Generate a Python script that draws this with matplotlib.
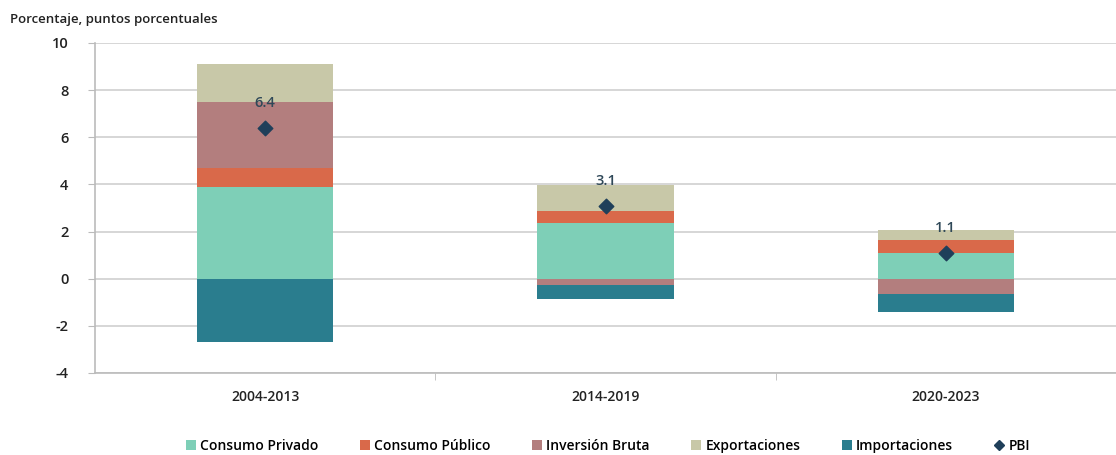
import numpy as np
import matplotlib.pyplot as plt
from matplotlib.lines import Line2D
from matplotlib.patches import Patch

plt.rcParams['font.family'] = ['Open Sans', 'DejaVu Sans']
plt.rcParams['axes.unicode_minus'] = False

periodos = ["2004-2013", "2014-2019", "2020-2023"]
consumo_privado = [3.9, 2.37, 1.09]
consumo_publico = [0.8, 0.52, 0.54]
inversion_bruta = [2.8, -0.27, -0.64]
exportaciones = [1.6, 1.1, 0.43]
importaciones = [-2.7, -0.6, -0.79]
pbi = [6.4, 3.1, 1.1]

series = [
    ("Consumo Privado", consumo_privado, "#7ecfb7"),
    ("Consumo Público", consumo_publico, "#d9694a"),
    ("Inversión Bruta", inversion_bruta, "#b37e7e"),
    ("Exportaciones", exportaciones, "#c8c8a8"),
    ("Importaciones", importaciones, "#2a7d8e"),
]

fig = plt.figure(figsize=(11.16, 4.55), dpi=100)
ax = fig.add_axes([95/1116, 1 - 373/455, 1021/1116, 330/455])

x = np.arange(len(periodos))
pos_base = np.zeros(len(periodos))
neg_base = np.zeros(len(periodos))
for name, vals, col in series:
    vals = np.array(vals)
    base = np.where(vals >= 0, pos_base, neg_base)
    ax.bar(x, vals, 0.4, bottom=base, color=col, zorder=2)
    pos_base = pos_base + np.where(vals >= 0, vals, 0)
    neg_base = neg_base + np.where(vals < 0, vals, 0)

ax.scatter(x, pbi, marker="D", s=55, color="#1f3f5a", zorder=3)
for xi, v in zip(x, pbi):
    ax.annotate(f"{v:.1f}", (xi, v), xytext=(0, 18), textcoords="offset points",
                ha="center", va="center", fontsize=10.5, color="#2f4858",
                fontweight="semibold")

ax.set_ylim(-4, 10)
ax.set_yticks(range(-4, 11, 2))
ax.set_xlim(-0.5, -0.5 + 1021/341.7)
ax.grid(axis="y", color="#d0d0d0", linewidth=1.2, zorder=0)
ax.set_xticks(x)
ax.set_xticklabels(periodos, fontsize=10, color="#222222", fontweight="semibold")
ax.set_xticks([0.5, 1.5, 2.5], minor=True)
ax.tick_params(axis="x", which="major", length=0, pad=12)
ax.tick_params(axis="x", which="minor", length=5, color="#bbbbbb", direction="out")
ax.tick_params(axis="y", length=5, color="#bbbbbb", labelsize=10.5, labelcolor="#222222", pad=14)
for lab in ax.get_yticklabels():
    lab.set_fontweight("semibold")
for s in ["top", "right"]:
    ax.spines[s].set_visible(False)
ax.spines["left"].set_color("#bbbbbb")
ax.spines["bottom"].set_color("#bbbbbb")
ax.spines["left"].set_linewidth(1.2)
ax.spines["bottom"].set_linewidth(1.2)

fig.text(10/1116, 1 - 20/455, "Porcentaje, puntos porcentuales", fontsize=9.5,
         color="#222222", va="center", ha="left", fontweight="semibold")

handles = [Patch(facecolor=c, label=n) for n, _, c in series]
handles.append(Line2D([], [], marker="D", linestyle="none", color="#1f3f5a",
                      markersize=5, label="PBI"))
fig.legend(handles=handles, loc="center", bbox_to_anchor=(0.545, 1 - 446/455),
           ncol=6, frameon=False, handlelength=0.7, handleheight=0.7,
           handletextpad=0.3, columnspacing=3.0,
           prop={"size": 10, "weight": "semibold"})

fig.savefig("out.png", dpi=100)
